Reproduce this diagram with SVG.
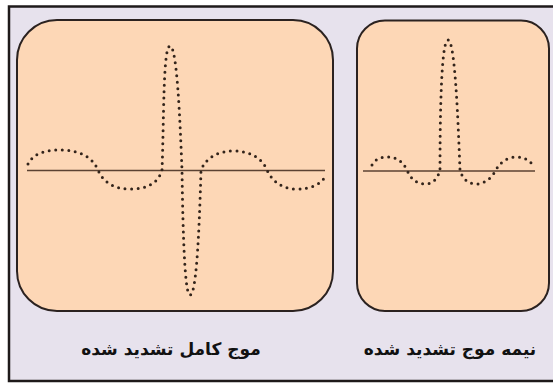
<svg xmlns="http://www.w3.org/2000/svg" width="553" height="385" viewBox="0 0 553 385">
  <style>
    .panel { fill: #fdd7b6; stroke: #2b2220; stroke-width: 2; }
    .axis { stroke: #5b4232; stroke-width: 1.6; fill: none; }
    .wave { fill: none; stroke: #33241b; stroke-width: 3; stroke-linecap: round; stroke-dasharray: 0 6.5; }
    .label { font-family: "DejaVu Sans", "Noto Sans", sans-serif; font-weight: bold; font-size: 17px; fill: #111; text-anchor: middle; direction: rtl; }
  </style>
  <rect x="0" y="0" width="553" height="385" fill="#ffffff"/>
  <rect id="frame" x="9" y="6.5" width="560" height="374.5" fill="#e7e2ed" stroke="#1e1a1a" stroke-width="2.5"/>

  <g id="full-wave">
    <rect class="panel" x="17" y="20" width="316" height="291" rx="40" ry="40"/>
    <line class="axis" x1="27" y1="170.5" x2="325" y2="170.5"/>
    <path class="wave" d="M28,164 C34,152 48,150 60,150 C78,150 92,156 98,170 C104,184 116,189 130,189 C146,189 158,184 162,170 C164,120 163,46 170,46 C177,46 180,120 182,170 C183,240 185,295 190,295 C196,295 199,240 201,170 C207,156 220,151 234,151 C250,151 262,158 267,170 C273,183 284,189 296,189 C310,189 320,185 325,177"/>
    <text class="label" x="171" y="355">موج کامل تشدید شده</text>
  </g>

  <g id="half-wave">
    <rect class="panel" x="357" y="20.5" width="192" height="290.5" rx="28" ry="28"/>
    <line class="axis" x1="363" y1="171" x2="535" y2="171"/>
    <path class="wave" d="M372,165 C376,158 382,157 388,157 C397,157 403,162 407,170 C411,180 418,184 425,184 C433,184 438,178 440,170 C440,120 441,40 448,40 C455,40 458,120 460,170 C462,178 468,184 476,184 C484,184 491,179 496,170 C500,162 508,157 516,157 C524,157 529,160 532,164"/>
    <text class="label" x="450" y="355">نیمه موج تشدید شده</text>
  </g>
</svg>
